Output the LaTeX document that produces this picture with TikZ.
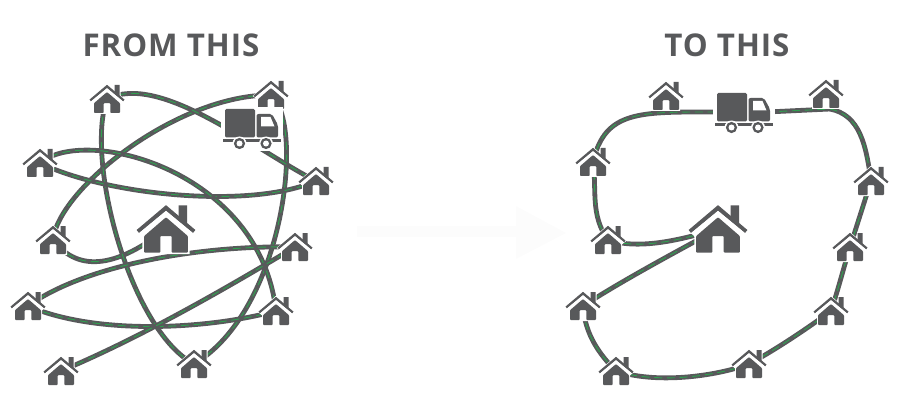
\documentclass[tikz,border=0pt]{standalone}
\usepackage{fontspec}
\setsansfont[LetterSpace=3]{Open Sans}
\usepackage{tikz}
\usetikzlibrary{calc}

\definecolor{slate}{HTML}{58595B}
\definecolor{lane}{HTML}{2FA04F}
\definecolor{ghost}{HTML}{FCFCFC}

\tikzset{
	road/.style={draw=slate, line width=3.6pt, line cap=round, postaction={draw=lane, line width=0.7pt, dash pattern=on 5.5pt off 4pt}},
	heading/.style={font=\sffamily\bfseries\fontsize{23.5}{27}\selectfont, text=slate},
	home/.pic={
		\fill[white] (-18.5,1)--(0,-15.2)--(7,-9)--(7,-15)--(13.5,-15)--(13.5,-3.5)--(18.5,1)--(14,4)--(14,15)--(-14,15)--(-14,4)--cycle;
		\fill[slate] (7.5,-14)--(12.5,-14)--(12.5,-2)--(7.5,-6)--cycle;
		\fill[slate] (0,-14.2)--(17.5,0.6)--(16,2.4)--(0,-10.8)--(-16,2.4)--(-17.5,0.6)--cycle;
		\fill[white] (0,-10.8)--(16,2.4)--(13,5.5)--(-13,5.5)--(-16,2.4)--cycle;
		\fill[slate, rounded corners=0.6pt] (-13,4.2)--(0,-7)--(13,4.2)--(13,14)--(3.4,14)--(3.4,4.2)--(-3.4,4.2)--(-3.4,14)--(-13,14)--cycle;
	},
	truck/.pic={
		\fill[white] (-4,-2) rectangle (58,42);
		\fill[slate, rounded corners=1pt] (0,0) rectangle (30,28.5);
		\fill[slate, rounded corners=1.5pt] (31.5,5)--(47,5)--(53,16)--(53,28.5)--(31.5,28.5)--cycle;
		\fill[white] (36,8)--(45.5,8)--(49.5,17.5)--(36,17.5)--cycle;
		\fill[slate] (-2,30.5) rectangle (56,33.5);
		\foreach \wheelx in {14.5,41}{
			\fill[white] (\wheelx,34.5) circle (7);
			\fill[slate] (\wheelx,34.5) circle (5.6);
			\fill[white] (\wheelx,34.5) circle (3);
		}
	},
}

\begin{document}
\begin{tikzpicture}[x=0.75pt,y=-0.75pt]

	\useasboundingbox (0,0) rectangle (899,406);

	\node[heading] (fromhead) at (171,45) {FROM THIS};
	\node[heading] (tohead) at (727,45) {TO THIS};

	\fill[ghost] (357,226)--(516,226)--(516,206)--(566,233)--(516,259)--(516,237)--(357,237)--cycle;

	% left picture
	\coordinate (la) at (107,99);
	\coordinate (lb) at (271,95);
	\coordinate (lc) at (40,163);
	\coordinate (ld) at (316,181);
	\coordinate (le) at (53,240);
	\coordinate (lf) at (295,247);
	\coordinate (lg) at (28,306);
	\coordinate (lh) at (276,311);
	\coordinate (li) at (61,371);
	\coordinate (lj) at (194,364);
	\coordinate (ldepot) at (166,229);
	\coordinate (ltruck) at (225,109);

	\draw[road] (ldepot) .. controls (120,265) and (80,275) .. (le);
	\draw[road] (le) .. controls (58,190) and (175,95) .. (lb);
	\draw[road] (lb) .. controls (305,122) and (285,310) .. (lj);
	\draw[road] (lj) .. controls (130,330) and (85,160) .. (la);
	\draw[road] (la) .. controls (160,72) and (255,150) .. (ld);
	\draw[road] (ld) .. controls (250,210) and (105,195) .. (lc);
	\draw[road] (lc) .. controls (85,125) and (260,170) .. (lh);
	\draw[road] (lh) .. controls (205,330) and (95,335) .. (lg);
	\draw[road] (lg) .. controls (85,265) and (200,245) .. (lf);
	\draw[road] (lf) .. controls (215,295) and (135,340) .. (li);

	\pic at (la) {home};
	\pic at (lb) {home};
	\pic at (lc) {home};
	\pic at (ld) {home};
	\pic at (le) {home};
	\pic at (lf) {home};
	\pic at (lg) {home};
	\pic at (lh) {home};
	\pic at (li) {home};
	\pic at (lj) {home};
	\pic[scale=1.68] at (ldepot) {home};
	\pic at (ltruck) {truck};

	% right picture
	\coordinate (ra) at (666,96);
	\coordinate (rb) at (830,109);
	\coordinate (rc) at (593,162);
	\coordinate (rd) at (871,181);
	\coordinate (re) at (608,240);
	\coordinate (rf) at (850,247);
	\coordinate (rg) at (583,306);
	\coordinate (rh) at (831,311);
	\coordinate (ri) at (616,371);
	\coordinate (rj) at (749,364);
	\coordinate (rdepot) at (718,229);
	\coordinate (rtruck) at (717,93);

	\draw[road] (rc) .. controls (605,110) and (640,112) .. ($(rtruck)+(0,19)$);
	\draw[road] ($(rtruck)+(50,19)$) -- (rb);
	\draw[road] (rb) .. controls (860,115) and (866,145) .. (rd);
	\draw[road] (rd) -- (rf);
	\draw[road] (rf) .. controls (843,270) and (838,290) .. (rh);
	\draw[road] (rh) .. controls (805,330) and (775,350) .. (rj);
	\draw[road] (rj) .. controls (720,375) and (660,385) .. (ri);
	\draw[road] (ri) .. controls (600,355) and (585,335) .. (rg);
	\draw[road] (rg) .. controls (620,282) and (670,255) .. (rdepot);
	\draw[road] (rdepot) .. controls (680,240) and (640,250) .. (re);
	\draw[road] (re) .. controls (590,215) and (597,190) .. (rc);

	\pic at (ra) {home};
	\pic at ($(rb)+(-4,-15)$) {home};
	\pic at (rc) {home};
	\pic at (rd) {home};
	\pic at (re) {home};
	\pic at (rf) {home};
	\pic at (rg) {home};
	\pic at (rh) {home};
	\pic at (ri) {home};
	\pic at (rj) {home};
	\pic[scale=1.68] at (rdepot) {home};
	\pic at (rtruck) {truck};

\end{tikzpicture}
\end{document}
